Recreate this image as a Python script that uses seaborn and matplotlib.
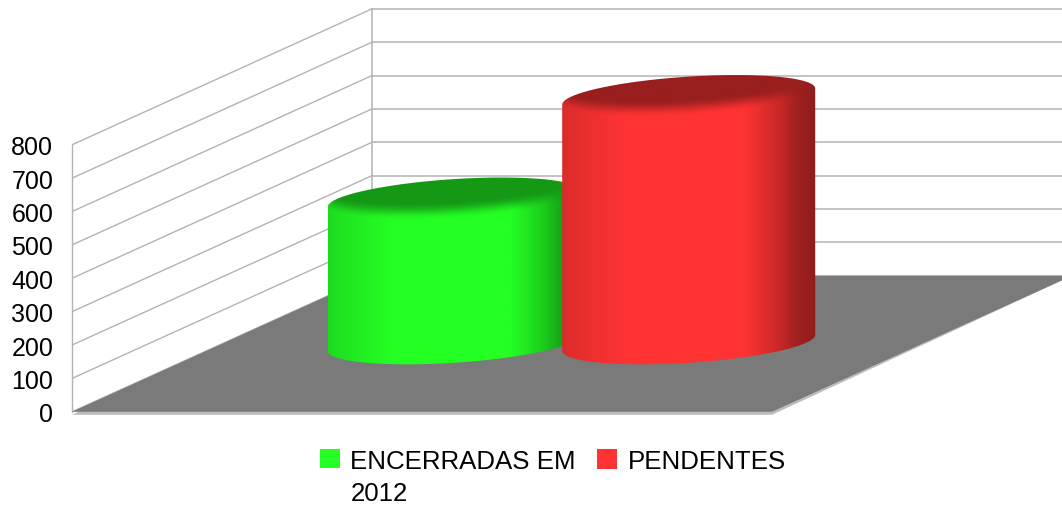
import numpy as np
import pandas as pd
import seaborn as sns
import matplotlib
matplotlib.use("Agg")
import matplotlib.pyplot as plt
from matplotlib.patches import Patch, Polygon, PathPatch
from matplotlib.path import Path

categories = ["ENCERRADAS EM\n2012", "PENDENTES"]
values = [431, 738]
colors = ["#24ff24", "#ff3333"]
y_ticks = [0, 100, 200, 300, 400, 500, 600, 700, 800]

W, H = 1062, 510
GRID = "#b3b3b3"
FLOOR = "#7a7a7a"
# scale of the projection: pixels per category slot and per value unit
PX_CAT = 234.6
PX_VAL = 0.33375
AX_LEFT = 72
FIRST_CAT_PX = 302
ZERO_PX = 412.8
# depth vector of the floor, in data units
DEPTH_X = 300 / PX_CAT
DEPTH_V = 136 / PX_VAL

sns.set_style("white")
plt.rcParams["font.family"] = ["Liberation Sans", "DejaVu Sans"]
plt.rcParams["font.size"] = 18

fig = plt.figure(figsize=(W / 100, H / 100), dpi=100)
ax = fig.add_axes([AX_LEFT / W, 0, 1 - AX_LEFT / W, 1])

df = pd.DataFrame({"cat": categories, "value": values})
sns.barplot(data=df, x="cat", y="value", hue="cat", palette=colors, width=1,
            legend=False, ax=ax, saturation=1)
bars = list(ax.patches)
for b in bars:
    b.set_visible(False)

x_left = (AX_LEFT - FIRST_CAT_PX) / PX_CAT
x_right = (W - FIRST_CAT_PX) / PX_CAT
ax.set_xlim(x_left, x_right)
ax.set_ylim((ZERO_PX - H) / PX_VAL, ZERO_PX / PX_VAL)
front_right = x_left + 700 / PX_CAT

# walls
for v in y_ticks:
    ax.plot([x_left, x_left + DEPTH_X], [v, v + DEPTH_V], color=GRID, lw=1, zorder=1)
    ax.plot([x_left + DEPTH_X, x_right + 1], [v + DEPTH_V] * 2, color=GRID, lw=1.1, zorder=1)
ax.plot([x_left] * 2, [0, y_ticks[-1]], color=GRID, lw=1, zorder=1, clip_on=False)
ax.plot([x_left + DEPTH_X] * 2, [DEPTH_V, y_ticks[-1] + DEPTH_V], color=GRID, lw=1.1, zorder=1)

# floor
edge = Polygon([(x_left, -3 / PX_VAL), (front_right, -3 / PX_VAL),
                (front_right + DEPTH_X, DEPTH_V), (x_left + DEPTH_X, DEPTH_V)],
               closed=True, fc="#bdbdbd", ec="none", zorder=2)
ax.add_patch(edge)
floor = Polygon([(x_left, 0), (front_right, 0), (front_right + DEPTH_X, DEPTH_V),
                 (x_left + DEPTH_X, DEPTH_V)], closed=True, fc=FLOOR, ec="none", zorder=2.1)
ax.add_patch(floor)

# cylinders, one per bar
DEPTH_FRAC = 0.507
BX = 47.4 / PX_CAT
BV = 21.5 / PX_VAL
STOPS_U = [0, .03, .25, .72, .85, .93, 1]
STOPS_F = [.85, .88, 1, 1, .80, .62, .57]
CAP = 0.6
CAP_BAND = 17 / PX_VAL

for i, (b, col) in enumerate(zip(bars, colors)):
    A = b.get_width() / 2
    cx = b.get_x() + A + DEPTH_FRAC * DEPTH_X
    cv0 = DEPTH_FRAC * DEPTH_V
    cv1 = cv0 + b.get_height()
    hw = np.hypot(A, BX)
    t0 = np.arctan2(BX, A)
    ts = np.linspace(t0, t0 + np.pi, 120)
    top = np.c_[cx + A * np.cos(ts) + BX * np.sin(ts), cv1 + BV * np.sin(ts)]
    ts2 = ts + np.pi
    bot = np.c_[cx + A * np.cos(ts2) + BX * np.sin(ts2), cv0 + BV * np.sin(ts2)]
    outline = np.vstack([top, bot, top[:1]])

    xs = np.linspace(cx - hw, cx + hw, 600)
    vs = np.linspace(cv0 - BV * 1.05, cv1 + BV * 1.05, 900)
    X, V = np.meshgrid(xs, vs)
    u = (X - (cx - hw)) / (2 * hw)
    f = np.interp(u, STOPS_U, STOPS_F)
    # height above the front edge of the top ellipse, at each x
    front_x = cx + A * np.cos(ts2) + BX * np.sin(ts2)
    front_v = cv1 + BV * np.sin(ts2)
    vf = np.interp(X, front_x, front_v)
    m = np.clip((V - vf) / CAP_BAND, 0, 1)
    m = m * m * (3 - 2 * m)
    base = np.array(matplotlib.colors.to_rgb(col))
    img = (f[..., None] * (1 - m[..., None]) + CAP * m[..., None]) * base[None, None, :]
    im = ax.imshow(np.clip(img, 0, 1), extent=(xs[0], xs[-1], vs[0], vs[-1]), origin="lower",
                   aspect="auto", zorder=3 + i, interpolation="bilinear")
    clip = PathPatch(Path(outline), transform=ax.transData, fc="none", ec="none")
    ax.add_patch(clip)
    im.set_clip_path(clip)

ax.set_xlim(x_left, x_right)
ax.set_ylim((ZERO_PX - H) / PX_VAL, ZERO_PX / PX_VAL)
ax.set_xticks([])
ax.set_xlabel("")
ax.set_ylabel("")
ax.set_yticks(y_ticks)
ax.set_yticklabels([str(t) for t in y_ticks], fontsize=18, color="black")
ax.tick_params(axis="y", length=0, pad=13.5)
ax.patch.set_alpha(0)
for sp in ax.spines.values():
    sp.set_visible(False)

# one legend per entry, so the second sits on the first line of the first
anchors = [(320, 450), (597, 450)]
nudges = [13.5, 0]
for c, l, (px, py), nudge in zip(colors, categories, anchors, nudges):
    leg = fig.legend(handles=[Patch(fc=c, ec="none", label=l)], frameon=False, fontsize=18.6,
                     loc="upper left", bbox_to_anchor=(px / W, 1 - py / H),
                     bbox_transform=fig.transFigure, borderaxespad=0, borderpad=0,
                     handlelength=0.78, handleheight=0.78, handletextpad=0.4,
                     labelcolor="black")
    for t in leg.get_texts():
        t.set_linespacing(1.42)
    h = leg.legend_handles[0]
    h.set_y(h.get_y() + nudge)

fig.savefig("out.png", dpi=100)
